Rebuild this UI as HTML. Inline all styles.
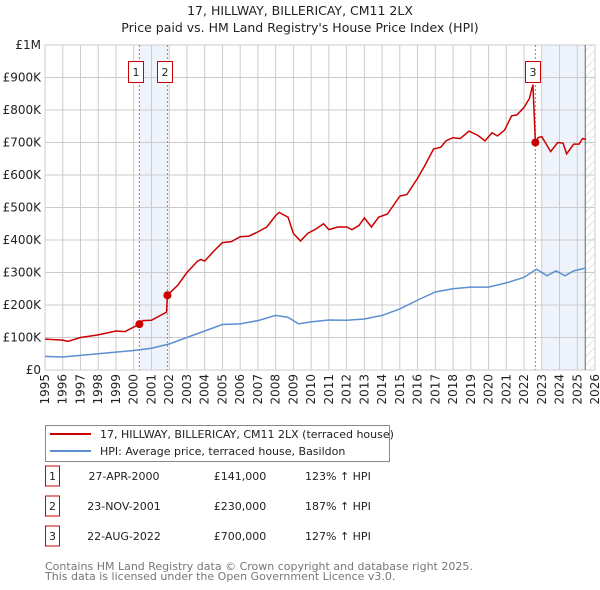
<!DOCTYPE html>
<html><head><meta charset="utf-8"><style>
body{margin:0;background:#fff;font-family:"DejaVu Sans","Liberation Sans",sans-serif}
svg{display:block}
</style></head><body>
<svg id="c" width="600" height="590" xmlns="http://www.w3.org/2000/svg" font-family="DejaVu Sans, Liberation Sans, sans-serif">
<defs><pattern id="hatch" width="6" height="6" patternUnits="userSpaceOnUse" patternTransform="rotate(45)"><line x1="0" y1="0" x2="0" y2="6" stroke="#ccc" stroke-width="1"/></pattern></defs>
<text x="300" y="15" text-anchor="middle" font-size="12.5" fill="#222">17, HILLWAY, BILLERICAY, CM11 2LX</text>
<text x="300" y="32" text-anchor="middle" font-size="12.5" fill="#222">Price paid vs. HM Land Registry's House Price Index (HPI)</text>
<g id="plot"></g>
<g>
<rect x="45.5" y="425.5" width="344" height="36" fill="#fff" stroke="#888"/>
<line x1="50" y1="434" x2="91" y2="434" stroke="#cc0000" stroke-width="2"/>
<text x="100" y="438" font-size="11" fill="#222">17, HILLWAY, BILLERICAY, CM11 2LX (terraced house)</text>
<line x1="50" y1="451" x2="91" y2="451" stroke="#5b8fd0" stroke-width="2"/>
<text x="100" y="455" font-size="11" fill="#222">HPI: Average price, terraced house, Basildon</text>
</g>
<g id="table" font-size="11" fill="#222"></g>
<text x="45" y="570" font-size="11" fill="#777">Contains HM Land Registry data © Crown copyright and database right 2025.</text>
<text x="45" y="580" font-size="11" fill="#777">This data is licensed under the Open Government Licence v3.0.</text>
</svg>
<script>
const yearTicks=[1995,1996,1997,1998,1999,2000,2001,2002,2003,2004,2005,2006,2007,2008,2009,2010,2011,2012,2013,2014,2015,2016,2017,2018,2019,2020,2021,2022,2023,2024,2025,2026];
const priceTicks=[0,100,200,300,400,500,600,700,800,900,1000];
const priceTickLabels=["£0","£100K","£200K","£300K","£400K","£500K","£600K","£700K","£800K","£900K","£1M"];
const redX=[1995,1996,1996.3,1997,1998,1999,1999.5,2000,2000.32,2000.5,2001,2001.85,2001.9,2002.5,2003,2003.6,2003.8,2004,2004.5,2005,2005.5,2006,2006.5,2007,2007.5,2008,2008.2,2008.7,2009,2009.4,2009.8,2010.3,2010.7,2011,2011.5,2012,2012.3,2012.7,2013,2013.4,2013.8,2014.3,2015,2015.4,2016,2016.4,2016.9,2017.3,2017.6,2018,2018.4,2018.9,2019.4,2019.8,2020.2,2020.5,2020.9,2021.3,2021.6,2022,2022.3,2022.5,2022.64,2022.8,2023,2023.5,2023.9,2024.2,2024.4,2024.8,2025.1,2025.3,2025.5];
const redY=[95,92,88,100,108,120,118,132,141,152,153,178,230,262,300,335,340,335,365,392,395,410,412,425,440,475,485,470,420,397,420,435,450,432,440,440,432,445,468,440,470,480,535,540,590,628,680,685,705,715,712,735,722,705,730,720,738,782,785,808,835,878,700,715,718,672,700,698,665,695,695,712,710];
const blueX=[1995,1996,1997,1998,1999,2000,2001,2002,2003,2004,2005,2006,2007,2008,2008.7,2009.3,2010,2011,2012,2013,2014,2015,2016,2017,2018,2019,2020,2021,2022,2022.7,2023.3,2023.8,2024.3,2024.8,2025.5];
const blueY=[42,40,45,50,55,60,67,80,100,120,140,142,152,168,162,142,148,154,153,157,168,188,215,240,250,255,255,268,285,310,290,305,290,305,314];
const saleX=[2000.32,2001.9,2022.64];
const saleY=[141,230,700];
const saleLabels=["1","2","3"];
const saleDates=["27-APR-2000","23-NOV-2001","22-AUG-2022"];
const salePrices=["£141,000","£230,000","£700,000"];
const saleHpi=["123% ↑ HPI","187% ↑ HPI","127% ↑ HPI"];

const L=45,R=595,T=45,B=370,x0=1995,x1=2026;
const sx=v=>L+(v-x0)/(x1-x0)*(R-L);
const sy=v=>B-v/1000*(B-T);
const NS="http://www.w3.org/2000/svg";
const g=document.getElementById('plot');
function mk(tag,attrs,parent){const e=document.createElementNS(NS,tag);for(const k in attrs)e.setAttribute(k,attrs[k]);(parent||g).appendChild(e);return e;}
let e=mk('rect',{x:sx(saleX[0]),y:T,width:sx(saleX[1])-sx(saleX[0]),height:B-T,fill:'#eef3fc'});


e=mk('rect',{x:sx(2023),y:T,width:sx(2025.45)-sx(2023),height:B-T,fill:'#eef3fc'});


e=mk('rect',{x:sx(2025.45),y:T,width:R-sx(2025.45),height:B-T,fill:'url(#hatch)'});


priceTicks.forEach((p,i)=>{
  e=mk('line',{x1:L,x2:R,y1:sy(p),y2:sy(p),stroke:'#ccc','stroke-width':1});
  
  
  e=mk('text',{x:L-4,y:sy(p)+4,'text-anchor':'end','font-size':12,fill:'#222'});
  e.textContent=priceTickLabels[i];
  
  
});
yearTicks.forEach(y=>{
  e=mk('line',{x1:sx(y),x2:sx(y),y1:T,y2:B,stroke:'#ccc','stroke-width':1});
  
  
  e=mk('text',{x:0,y:0,'text-anchor':'end','font-size':12,fill:'#222',transform:`translate(${sx(y)+4},${B+4}) rotate(-90)`});
  e.textContent=y;
  
  
});
e=mk('line',{x1:sx(2025.45),x2:sx(2025.45),y1:T,y2:B,stroke:'#666','stroke-width':1});


saleX.forEach(v=>{
  e=mk('line',{x1:sx(v),x2:sx(v),y1:T,y2:B,stroke:'#f06060','stroke-width':1,'stroke-dasharray':'2,2'});
  
  
});
e=mk('polyline',{points:blueX.map((v,i)=>sx(v)+','+sy(blueY[i])).join(' '),fill:'none',stroke:'#5b8fd0','stroke-width':1.5});


e=mk('polyline',{points:redX.map((v,i)=>sx(v)+','+sy(redY[i])).join(' '),fill:'none',stroke:'#cc0000','stroke-width':1.5});


const boxOff=[-11,-10,-10];
saleX.forEach((v,i)=>{
  e=mk('circle',{cx:sx(v),cy:sy(saleY[i]),r:4,fill:'#cc0000'});
  
  
  const bx=Math.round(sx(v)+boxOff[i])+0.5;
  e=mk('rect',{x:bx,y:61.5,width:15,height:21,fill:'#fff',stroke:'#cc0000'});
  
  
  e=mk('text',{x:bx+7.5,y:76,'text-anchor':'middle','font-size':11,fill:'#222'});
  e.textContent=saleLabels[i];
  
  
});
const tb=document.getElementById('table');
saleLabels.forEach((s,i)=>{
  const y=483+i*30;
  e=mk('rect',{x:45.5,y:y-17,width:14,height:20,fill:'#fff',stroke:'#cc0000'},tb);
  
  
  e=mk('text',{x:52.5,y:y-3,'text-anchor':'middle'},tb);e.textContent=s;
  
  
  e=mk('text',{x:124,y:y-3,'text-anchor':'middle'},tb);e.textContent=saleDates[i];
  
  
  e=mk('text',{x:240,y:y-3,'text-anchor':'middle'},tb);e.textContent=salePrices[i];
  
  
  e=mk('text',{x:305,y:y-3},tb);e.textContent=saleHpi[i];
  
  
});
</script>
</body></html>
